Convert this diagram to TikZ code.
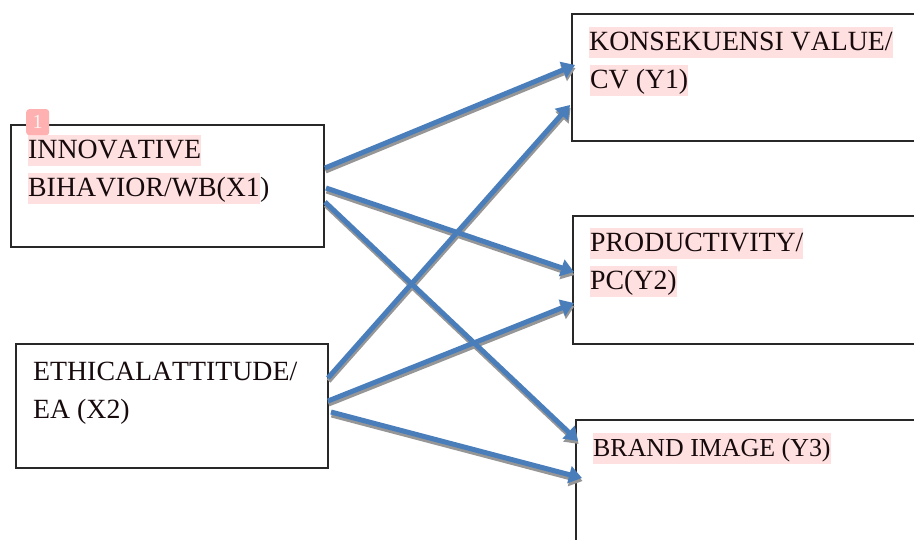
\documentclass[tikz,border=0pt]{standalone}
\usepackage{fontspec}
\setmainfont[Kerning=Off]{Liberation Serif}
\usetikzlibrary{arrows.meta}
\definecolor{hl}{RGB}{255,224,224}
\definecolor{ink}{RGB}{22,10,12}
\definecolor{arrowblue}{RGB}{74,126,187}
\definecolor{shade}{RGB}{150,150,150}
\definecolor{badge}{RGB}{255,176,176}
\definecolor{boxline}{RGB}{40,40,40}
\tikzset{
  x=1pt,y=-1pt,
  boxnode/.style={draw=boxline,line width=1.3pt,fill=white,anchor=north west,inner sep=0pt,outer sep=0pt,minimum width=#1},
  label/.style={anchor=base west,inner sep=0pt,text=ink,font=\fontsize{27.8}{30}\selectfont,text height=23pt,text depth=8pt},
  marked/.style={label,fill=hl},
  link/.style={line width=5pt,draw=arrowblue,-{Triangle[length=13pt,width=17pt]}},
  linkshade/.style={line width=5pt,draw=shade,-{Triangle[length=13pt,width=17pt]},transform canvas={xshift=0.6pt,yshift=-3pt}}
}
\begin{document}
\begin{tikzpicture}
\useasboundingbox (0,0) rectangle (914,539);
\clip (0,0) rectangle (914,539);
% boxes
\node[boxnode=313pt,minimum height=122pt] (x1) at (11,125) {};
\node[boxnode=312pt,minimum height=124pt] (x2) at (16,344) {};
\node[boxnode=378pt,minimum height=127pt] (y1) at (572,14) {};
\node[boxnode=378pt,minimum height=128pt] (y2) at (573,216) {};
\node[boxnode=378pt,minimum height=180pt] (y3) at (576,420) {};
% texts
\node[marked] (t1a) at (28,158) {INNOVATIVE};
\node[marked] (t1b) at (28,196) {BIHAVIOR/WB(X1};
\node[label,anchor=base west] (t1c) at (t1b.base east) {)};
\node[label] (t2a) at (33,380) {ETHICALATTITUDE/};
\node[label] (t2b) at (33,418) {EA (X2)};
\node[marked] (t3a) at (589,50) {KONSEKUENSI VALUE/};
\node[marked] (t3b) at (590,88) {CV (Y1)};
\node[marked] (t4a) at (590,251) {PRODUCTIVITY/};
\node[marked] (t4b) at (590,289) {PC(Y2)};
\node[marked,font=\fontsize{25.9}{30}\selectfont] (t5a) at (593,456) {BRAND IMAGE (Y3)};
% badge
\node[fill=badge,rounded corners=3pt,anchor=north west,minimum width=23pt,minimum height=26pt,inner sep=0pt,text=white!85!badge,font=\fontsize{20}{20}\selectfont] (badge) at (26,109) {1};
% connector ends
\coordinate (a1s) at (325,168); \coordinate (a1e) at (575,65);
\coordinate (a2s) at (326,188); \coordinate (a2e) at (574,272);
\coordinate (a3s) at (325,202); \coordinate (a3e) at (578,441);
\coordinate (a4s) at (328,378); \coordinate (a4e) at (570,105);
\coordinate (a5s) at (328,401); \coordinate (a5e) at (574,303);
\coordinate (a6s) at (331,412); \coordinate (a6e) at (582,478);
\foreach \n in {1,...,6}{
  \draw[linkshade] (a\n s) -- (a\n e);
}
\foreach \n in {1,...,6}{
  \draw[link] (a\n s) -- (a\n e);
}
\end{tikzpicture}
\end{document}
